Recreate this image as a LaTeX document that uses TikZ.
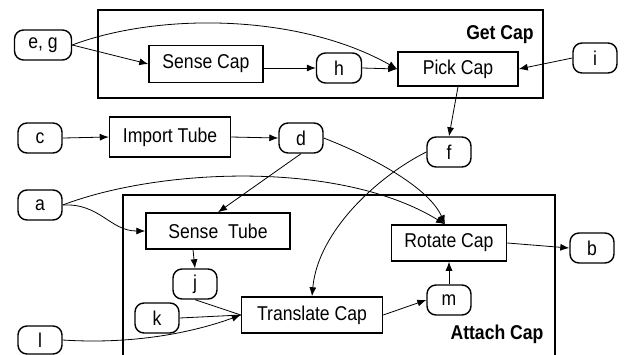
\documentclass[tikz,border=0pt]{standalone}
\usepackage{fontspec}
\setmainfont{Liberation Sans}[FakeStretch=0.88]
\usetikzlibrary{arrows.meta}
\begin{document}
\begin{tikzpicture}[x=1pt,y=-1pt,
  font=\fontsize{20}{23}\selectfont,
  proc/.style={draw,line width=1.5pt,minimum width=#1,minimum height=36pt,inner sep=0pt},
  dat/.style={draw,line width=1.4pt,rounded corners=9pt,minimum width=44pt,minimum height=30pt,inner sep=0pt},
  grp/.style={draw,line width=1.7pt},
  grplabel/.style={font=\fontsize{20}{23}\selectfont\bfseries},
  conn/.style={line width=0.8pt,-{Latex[length=9pt,width=7pt]}},
  plain/.style={line width=0.8pt}]
\useasboundingbox (0,0) rectangle (626,354);
\clip (0,0) rectangle (626,354);
% group boxes
\draw[grp] (98,10) rectangle (543,98);
\node[grplabel] (getcap) at (500,35) {Get Cap};
\draw[grp] (123,195) rectangle (555,380);
\node[grplabel] (attachcap) at (497,334) {Attach Cap};
% process nodes
\node[proc=114pt,minimum height=37pt] (sensecap) at (206,64) {Sense Cap};
\node[proc=120pt,minimum height=34pt] (pickcap) at (458,69) {Pick Cap};
\node[proc=121pt,minimum height=40pt] (import) at (170,137) {Import Tube};
\node[proc=144pt] (sensetube) at (218,231) {Sense~~Tube};
\node[proc=141pt] (translate) at (312,315) {Translate Cap};
\node[proc=115pt] (rotate) at (449,243) {Rotate Cap};
% data nodes
\node[dat,minimum width=57pt] (eg) at (43,45) {e, g};
\node[dat,minimum width=45pt] (h) at (339,68) {h};
\node[dat] (i) at (595,58) {i};
\node[dat] (c) at (40,138) {c};
\node[dat] (d) at (301,138) {d};
\node[dat] (f) at (449,152) {f};
\node[dat] (a) at (40,205) {a};
\node[dat] (b) at (592,248) {b};
\node[dat] (j) at (195,284) {j};
\node[dat] (k) at (157,318) {k};
\node[dat,minimum height=28pt] (l) at (40,340) {l};
\node[dat] (m) at (449,300) {m};
% connectors
\draw[conn] (eg.east) -- (sensecap.west);
\draw[conn] (eg.east) .. controls (160,12) and (300,14) .. (pickcap.west);
\draw[conn] (sensecap.east |- h.west) -- (h.west);
\draw[conn] (h.east) -- (pickcap.west);
\draw[conn] (i.west) -- (pickcap.east);
\draw[conn] (pickcap.south) -- (f.north);
\draw[conn] (c.east) -- (import.west);
\draw[conn] (import.east) -- (d.west);
\draw[conn] (d.south) -- (sensetube.north);
\draw[conn] (d.east) .. controls (380,160) and (430,190) .. ([xshift=-4pt]rotate.north);
\draw[conn] (f.west) .. controls (380,175) and (318,230) .. (translate.north);
\draw[conn] (a.east) .. controls (160,168) and (340,160) .. ([xshift=-4pt]rotate.north);
\draw[conn] (a.east) .. controls (100,203) and (110,231) .. (sensetube.west);
\draw[conn] ([xshift=-25pt]sensetube.south) -- (j.north);
\draw[plain] (j.south) -- (translate.west);
\draw[plain] (k.east) -- (translate.west);
\draw[conn] (l.east) .. controls (140,345) and (200,330) .. (translate.west);
\draw[conn] (translate.east) -- (m.west);
\draw[conn] (m.north) -- (rotate.south);
\draw[conn] (rotate.east) -- (b.west);
\end{tikzpicture}
\end{document}
